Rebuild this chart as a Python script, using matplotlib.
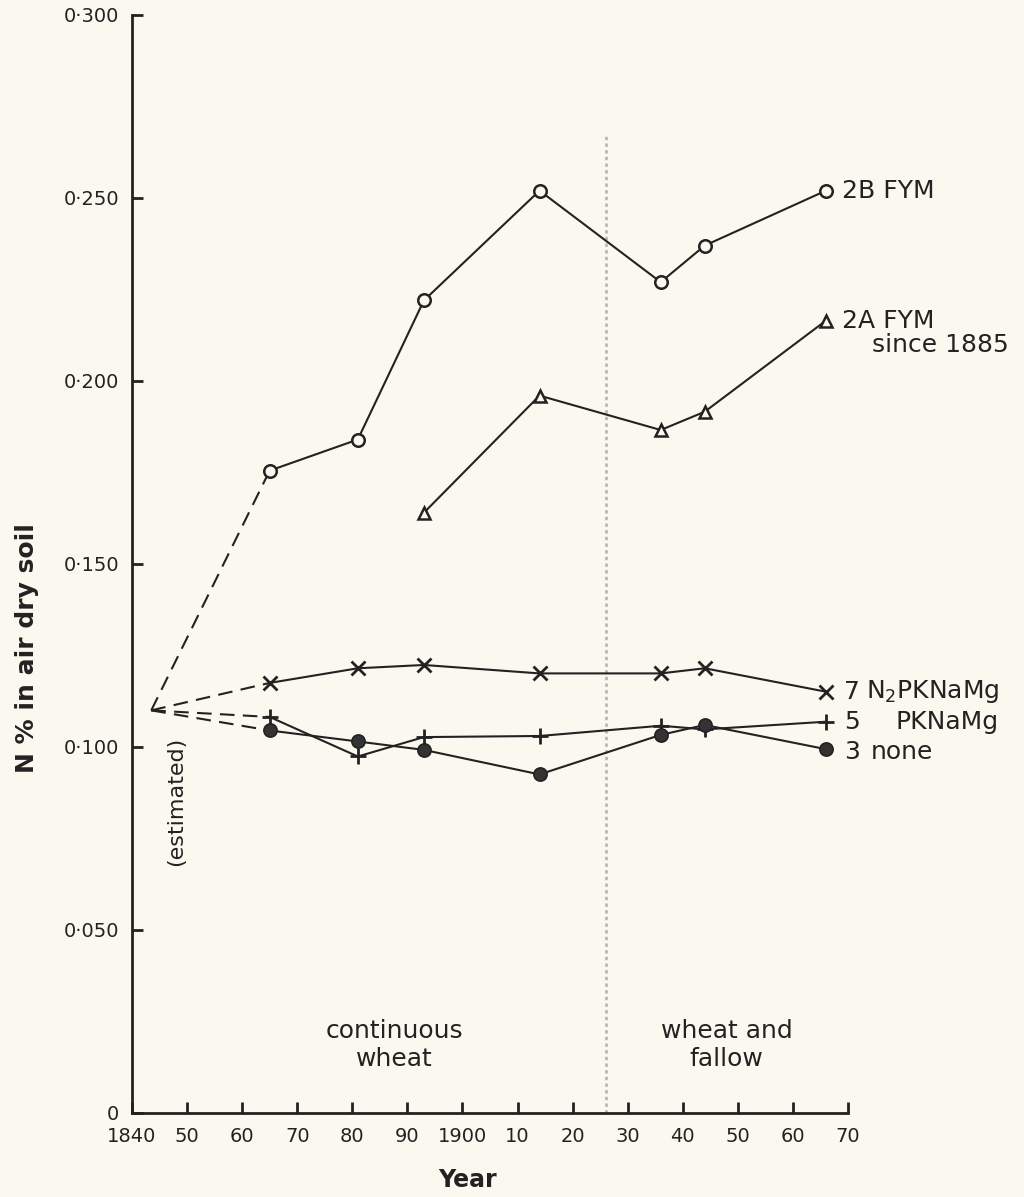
import matplotlib.pyplot as plt

plt.rcParams['font.family'] = ['DejaVu Sans']

# soil N on Broadbalk, N % in air dry soil
years = [1865, 1881, 1893, 1914, 1936, 1944, 1966]
est_year = 1843.5
est_n = 0.110          # estimated starting value

fym_2b = [0.1755, 0.184, 0.222, 0.252, 0.227, 0.237, 0.252]
fym_2a_years = [1893, 1914, 1936, 1944, 1966]
fym_2a = [0.164, 0.196, 0.1866, 0.1916, 0.2165]
n2pknamg = [0.1175, 0.1215, 0.1224, 0.1201, 0.1201, 0.1215, 0.1151]
pknamg = [0.1082, 0.0974, 0.1027, 0.1030, 0.1058, 0.1048, 0.1069]
none = [0.1045, 0.1015, 0.0992, 0.0925, 0.1033, 0.1060, 0.0994]

xticks = list(range(1840, 1971, 10))
xlabels = ['1840', '50', '60', '70', '80', '90', '1900', '10', '20', '30', '40', '50', '60', '70']
yticks = [0, 0.05, 0.10, 0.15, 0.20, 0.25, 0.30]
ylabels = ['0', '0·050', '0·100', '0·150', '0·200', '0·250', '0·300']

fallow_start = 1926
fallow_top = 0.267

bg = '#fbf9ef'
ink = '#222222'

fig = plt.figure(figsize=(10.24, 11.97), dpi=100, facecolor=bg)
ax = fig.add_axes([0.1289, 0.0702, 0.6992, 0.9173])
ax.set_facecolor(bg)

# dashed lines from the estimated start
for first in [fym_2b[0], n2pknamg[0], pknamg[0], none[0]]:
    ax.plot([est_year, years[0]], [est_n, first], color=ink, lw=1.5,
            dashes=(7, 4), zorder=2)

lw = 1.5
ax.plot(years, fym_2b, color=ink, lw=lw, marker='o', ms=9, mfc=bg, mec=ink, mew=1.8, zorder=3)
ax.plot(fym_2a_years, fym_2a, color=ink, lw=lw, marker='^', ms=9, mfc=bg, mec=ink, mew=1.8, zorder=3)
ax.plot(years, n2pknamg, color=ink, lw=lw, marker='x', ms=10, mew=2, zorder=3)
ax.plot(years, pknamg, color=ink, lw=lw, marker='+', ms=11, mew=2, zorder=3)
ax.plot(years, none, color=ink, lw=lw, marker='o', ms=9.5, mfc='#333333', mec=ink, mew=1.2, zorder=4)

# change of rotation
ax.plot([fallow_start, fallow_start], [0, fallow_top], color='#b8b8b0', lw=2,
        dashes=(1.2, 1.2), zorder=1)

# series labels
fs = 18
def lab(txt, x, y, dx, dy, ha='left'):
    ax.annotate(txt, (x, y), xytext=(dx, dy), textcoords='offset points',
                ha=ha, va='center', fontsize=fs, color=ink, annotation_clip=False)

lab('2B FYM', years[-1], fym_2b[-1], 11.5, 0)
lab('2A FYM', fym_2a_years[-1], fym_2a[-1], 11.5, 0)
lab('since 1885', fym_2a_years[-1], fym_2a[-1], 33, -17.5)
lab('7', years[-1], n2pknamg[-1], 13, 0)
lab('N$_2$PKNaMg', years[-1], n2pknamg[-1], 29, 0)
lab('5', years[-1], pknamg[-1], 13, 0)
lab('PKNaMg', years[-1], pknamg[-1], 50, 0)
lab('3', years[-1], none[-1], 13, -2)
lab('none', years[-1], none[-1], 32, -2)

ax.text(1848, 0.085, '(estimated)', rotation=90, ha='center', va='center',
        fontsize=16, color=ink)
ax.text(1887.7, 0.0186, 'continuous\nwheat', ha='center', va='center',
        fontsize=fs, color=ink, linespacing=1.2)
ax.text(1948, 0.0186, 'wheat and\nfallow', ha='center', va='center',
        fontsize=fs, color=ink, linespacing=1.2)

ax.set_xlim(1840, 1970)
ax.set_ylim(0, 0.300)
ax.set_xticks(xticks)
ax.set_xticklabels(xlabels)
ax.set_yticks(yticks)
ax.set_yticklabels(ylabels)
ax.tick_params(direction='in', length=8, width=2, colors=ink, labelsize=14)
ax.tick_params(axis='x', pad=10)
ax.tick_params(axis='y', pad=9)

for s in ['top', 'right']:
    ax.spines[s].set_visible(False)
for s in ['left', 'bottom']:
    ax.spines[s].set_linewidth(2)
    ax.spines[s].set_color(ink)

fig.text(468 / 1024, 1 - 1180 / 1197, 'Year', ha='center', va='center',
         fontsize=17, fontweight='bold', color=ink)
fig.text(27.5 / 1024, 1 - 648 / 1197, 'N % in air dry soil', rotation=90,
         ha='center', va='center', fontsize=18, fontweight='bold', color=ink)

fig.savefig('out.png', dpi=100, facecolor=bg)
